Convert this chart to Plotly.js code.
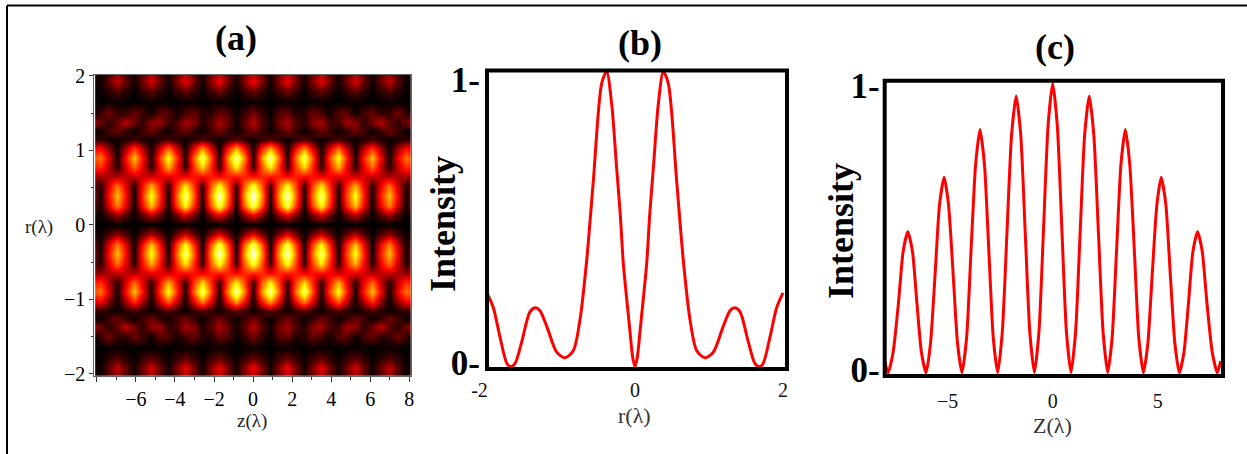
<!DOCTYPE html>
<html>
<head>
<meta charset="utf-8">
<script src="https://cdn.plot.ly/plotly-3.0.1.min.js"></script>
<style>html,body{margin:0;padding:0;background:#fff}#g{width:1247px;height:454px}</style>
</head>
<body>
<div id="g"></div>
<script>
// ---------- Panel (a) heatmap values (0-100) ----------
const heatZ = [-8,-7.83,-7.395,-6.96,-6.525,-6.09,-5.655,-5.22,-4.785,-4.35,-3.915,-3.48,-3.045,-2.61,-2.175,-1.74,-1.305,-0.87,-0.435,0,0.435,0.87,1.305,1.74,2.175,2.61,3.045,3.48,3.915,4.35,4.785,5.22,5.655,6.09,6.525,6.96,7.395,7.83,8];
const heatR = [-2,-1.92,-1.8,-1.65,-1.5,-1.37,-1.26,-1.15,-1.03,-0.9,-0.78,-0.65,-0.52,-0.39,-0.26,-0.13,0,0.13,0.26,0.39,0.52,0.65,0.78,0.9,1.03,1.15,1.26,1.37,1.5,1.65,1.8,1.92,2];
const R200 = [3,1,9,20,10,2,11,22,11,2,12,24,13,2,13,25,13,2,14,25,14,2,13,25,13,2,13,24,12,2,11,22,11,2,10,20,9,1,3];
const R192 = [3,1,11,23,12,2,13,26,13,2,14,28,15,2,15,29,15,2,16,30,16,2,15,29,15,2,15,28,14,2,13,26,13,2,12,23,11,1,3];
const R180 = [1,1,5,10,5,1,6,11,6,1,6,12,7,1,7,13,7,1,7,13,7,1,7,13,7,1,7,12,6,1,6,11,6,1,5,10,5,1,1];
const R165 = [1,0,1,1,1,0,1,1,1,0,1,1,1,0,1,1,1,0,1,1,1,0,1,1,1,0,1,1,1,0,1,1,1,0,1,1,1,0,1];
const R150 = [3,6,14,6,5,12,8,1,11,10,2,8,12,5,4,12,9,1,6,14,6,1,9,12,4,5,12,8,2,10,11,1,8,12,5,6,14,6,3];
const R137 = [16,13,5,11,23,13,5,17,19,7,8,20,16,4,10,20,13,2,11,22,11,2,13,20,10,4,16,20,8,7,19,17,5,13,23,11,5,13,16];
const R126 = [1,1,8,13,6,1,8,13,6,1,8,13,6,1,7,14,7,1,7,14,7,1,7,14,7,1,6,13,8,1,6,13,8,1,6,13,8,1,1];
const R115 = [6,6,3,1,4,8,4,1,5,9,5,1,5,10,6,1,6,11,6,1,6,11,6,1,6,10,5,1,5,9,5,1,4,8,4,1,3,6,6];
const R103 = [27,30,16,1,18,37,20,2,22,45,24,2,26,51,28,2,30,55,31,2,31,55,30,2,28,51,26,2,24,45,22,2,20,37,18,1,16,30,27];
const R090 = [45,50,27,2,30,62,33,3,37,75,40,3,44,85,47,3,50,92,52,3,52,92,50,3,47,85,44,3,40,75,37,3,33,62,30,2,27,50,45];
const R078 = [35,39,22,4,24,48,27,5,30,60,33,5,37,67,39,6,41,72,42,5,42,72,41,6,39,67,37,5,33,60,30,5,27,48,24,4,22,39,35];
const R065 = [18,18,20,21,22,22,25,25,27,26,29,29,32,30,34,31,35,32,36,33,36,32,35,31,34,30,32,29,29,26,27,25,25,22,22,21,20,18,18];
const R052 = [9,4,25,49,27,5,31,59,34,6,37,69,40,6,42,75,44,7,46,78,46,7,44,75,42,6,40,69,37,6,34,59,31,5,27,49,25,4,9];
const R039 = [10,2,30,62,33,2,37,75,40,3,45,88,48,3,50,96,52,3,56,100,56,3,52,96,50,3,48,88,45,3,40,75,37,2,33,62,30,2,10];
const R026 = [8,2,25,52,28,2,31,63,34,2,38,74,40,2,42,81,44,2,47,84,47,2,44,81,42,2,40,74,38,2,34,63,31,2,28,52,25,2,8];
const R013 = [3,1,9,18,10,1,11,22,12,1,13,26,14,1,15,29,15,1,16,30,16,1,15,29,15,1,14,26,13,1,12,22,11,1,10,18,9,1,3];
const R000 = [0,0,0,0,0,0,0,0,0,0,0,0,0,0,0,0,0,0,0,0,0,0,0,0,0,0,0,0,0,0,0,0,0,0,0,0,0,0,0];
const heatRows = [R200,R192,R180,R165,R150,R137,R126,R115,R103,R090,R078,R065,R052,R039,R026,R013,R000,R013,R026,R039,R052,R065,R078,R090,R103,R115,R126,R137,R150,R165,R180,R192,R200];

// ---------- Panel (b) ----------
const bR = [-2,-1.914,-1.824,-1.73,-1.68,-1.62,-1.53,-1.42,-1.35,-1.284,-1.19,-1.06,-0.946,-0.833,-0.743,-0.653,-0.563,-0.45,-0.383,-0.315,-0.25,-0.2,-0.158,-0.1,-0.068,-0.03,0,0.03,0.068,0.1,0.158,0.2,0.25,0.315,0.383,0.45,0.563,0.653,0.743,0.833,0.946,1.06,1.19,1.284,1.35,1.42,1.53,1.62,1.68,1.73,1.824,1.914,2];
const bI = [0.25,0.2,0.1,0.01,0,0.011,0.085,0.186,0.2,0.19,0.135,0.05,0.03,0.055,0.16,0.36,0.63,0.96,1,0.89,0.68,0.52,0.35,0.2,0.12,0.03,0,0.03,0.12,0.2,0.35,0.52,0.68,0.89,1,0.96,0.63,0.36,0.16,0.055,0.03,0.05,0.135,0.19,0.2,0.186,0.085,0.011,0,0.01,0.1,0.2,0.25];

// ---------- Panel (c) ----------
const cZ = [-8,-7.84,-7.6,-7.34,-7.12,-6.9,-6.68,-6.47,-6.25,-6.03,-5.82,-5.6,-5.39,-5.17,-4.96,-4.74,-4.53,-4.32,-4.1,-3.89,-3.67,-3.46,-3.25,-3.04,-2.83,-2.62,-2.4,-2.18,-1.96,-1.74,-1.52,-1.305,-1.09,-0.87,-0.65,-0.435,-0.22,0,0.22,0.435,0.65,0.87,1.09,1.305,1.52,1.74,1.96,2.18,2.4,2.62,2.83,3.04,3.25,3.46,3.67,3.89,4.1,4.32,4.53,4.74,4.96,5.17,5.39,5.6,5.82,6.03,6.25,6.47,6.68,6.9,7.12,7.34,7.6,7.84,8];
const cI = [0.04,0,0.07,0.245,0.42,0.487,0.42,0.245,0.07,0,0.1,0.34,0.58,0.675,0.58,0.34,0.1,0,0.12,0.42,0.72,0.84,0.72,0.42,0.12,0,0.14,0.48,0.82,0.956,0.82,0.48,0.14,0,0.146,0.5,0.854,1,0.854,0.5,0.146,0,0.14,0.48,0.82,0.956,0.82,0.48,0.14,0,0.12,0.42,0.72,0.84,0.72,0.42,0.12,0,0.1,0.34,0.58,0.675,0.58,0.34,0.1,0,0.07,0.245,0.42,0.487,0.42,0.245,0.07,0,0.04];

// ---------- Tick labels ----------
const aXVals = [-8,-6,-4,-2,0,2,4,6,8];
const aXText = ["","−6","−4","−2","0","2","4","6","8"];
const aYVals = [-2,-1,0,1,2];
const aYText = ["−2","−1","0","1","2"];
const bXVals = [-2,0,2];
const bXText = ["-2\u00a0\u00a0\u00a0","0","2"];
const bYVals = [0.0125,0.972];
const cXVals = [-5,0,5];
const cXText = ["−5","0","5"];
const cYVals = [0.009,0.992];
const intensityTicks = ["0-","1-"];

// ---------- Layout helpers ----------
const W = 1247, H = 454;
const xd = (a,b) => [a/W, b/W];
const yd = (top,bot) => [1-bot/H, 1-top/H];
const serif = "Liberation Serif, Times New Roman, serif";
const bigTick = {family:serif, size:35, color:"#000", weight:700};
const frame = (ax) => ({type:"rect", xref:ax[0]+" domain", yref:ax[1]+" domain", x0:0, x1:1, y0:0, y1:1, line:{color:"#000", width:4}, layer:"above"});
const note = (text,x,y,size,bold,color) => ({xref:"paper", yref:"paper", x:x/W, y:1-y/H, xanchor:"center", yanchor:"middle", showarrow:false,
  text: bold ? "<b>"+text+"</b>" : text, font:{family:serif, size:size, color:color||"#000"}});

const traces = [
  {type:"heatmap", x:heatZ, y:heatR, z:heatRows, zmin:0, zmax:100, zsmooth:"best", showscale:false, hoverinfo:"skip",
   colorscale:[[0,"#000000"],[0.3,"#ff0000"],[0.72,"#ffff00"],[1,"#ffffff"]], xaxis:"x", yaxis:"y"},
  {type:"scatter", mode:"lines", x:bR, y:bI, line:{color:"#ff0000", width:3, shape:"spline", smoothing:0.8}, xaxis:"x2", yaxis:"y2", hoverinfo:"skip"},
  {type:"scatter", mode:"lines", x:cZ, y:cI, line:{color:"#ff0000", width:3, shape:"spline", smoothing:0.6}, xaxis:"x3", yaxis:"y3", hoverinfo:"skip"}
];

const layout = {
  width:W, height:H, margin:{l:0,r:0,t:0,b:0}, showlegend:false, paper_bgcolor:"#fff", plot_bgcolor:"#fff",
  xaxis:{domain:xd(94.3,410.7), range:[-8.13,8.07], tickvals:aXVals, ticktext:aXText, ticks:"outside", ticklen:5, tickcolor:"#333",
    minor:{tickvals:[-7,-5,-3,-1,1,3,5,7], ticks:"outside", ticklen:3, tickcolor:"#333"},
    showline:true, mirror:true, linecolor:"#666", linewidth:1, showgrid:false, zeroline:false,
    tickfont:{family:serif, size:20, color:"#000"}, ticklabelstandoff:0},
  yaxis:{domain:yd(74.7,376), range:[-2.03,2.017], tickvals:aYVals, ticktext:aYText, ticks:"outside", ticklen:4, tickcolor:"#333",
    minor:{tickvals:[-1.5,-0.5,0.5,1.5], ticks:"outside", ticklen:2, tickcolor:"#333"},
    showline:true, mirror:true, linecolor:"#666", linewidth:1, showgrid:false, zeroline:false,
    tickfont:{family:serif, size:20, color:"#000"}},
  xaxis2:{domain:xd(487,787), range:[-2,2.054], tickvals:bXVals, ticktext:bXText, ticks:"", showgrid:false, zeroline:false,
    tickfont:{family:serif, size:20, color:"#111"}, ticklabelstandoff:7, anchor:"y2"},
  yaxis2:{domain:yd(70.5,369), range:[-0.0078,1.004], tickvals:bYVals, ticktext:intensityTicks, ticks:"", showgrid:false, zeroline:false,
    tickfont:bigTick, ticklabelstandoff:6, anchor:"x2"},
  xaxis3:{domain:xd(884.7,1223), range:[-8,8.11], tickvals:cXVals, ticktext:cXText, ticks:"", showgrid:false, zeroline:false,
    tickfont:{family:serif, size:20, color:"#111"}, ticklabelstandoff:11, anchor:"y3"},
  yaxis3:{domain:yd(80.8,376), range:[-0.0114,1.0086], tickvals:cYVals, ticktext:intensityTicks, ticks:"", showgrid:false, zeroline:false,
    tickfont:bigTick, ticklabelstandoff:4, anchor:"x3"},
  shapes:[
    frame(["x2","y2"]), frame(["x3","y3"]),
    {type:"line", xref:"paper", yref:"paper", x0:7/W, x1:1, y0:1-5.5/H, y1:1-5.5/H, line:{color:"#000", width:2}},
    {type:"line", xref:"paper", yref:"paper", x0:7/W, x1:7/W, y0:0, y1:1-5.5/H, line:{color:"#000", width:2}}
  ],
  annotations:[
    note("(a)",236,38,36,true), note("(b)",640,43,36,true), note("(c)",1055,47,36,true),
    note("r(λ)",39,227,19,false,"#222"), note("z(λ)",252,421,19,false,"#222"),
    note("r(λ)",634,415,22,false,"#333"), note("Z(λ)",1052,425,22,false,"#333"),
    Object.assign(note("<b>Intensity</b>",443,224,36,false), {textangle:-90}),
    Object.assign(note("<b>Intensity</b>",841,231,36,false), {textangle:-90})
  ]
};
Plotly.newPlot("g", traces, layout, {staticPlot:true, displayModeBar:false});
</script>
</body>
</html>
